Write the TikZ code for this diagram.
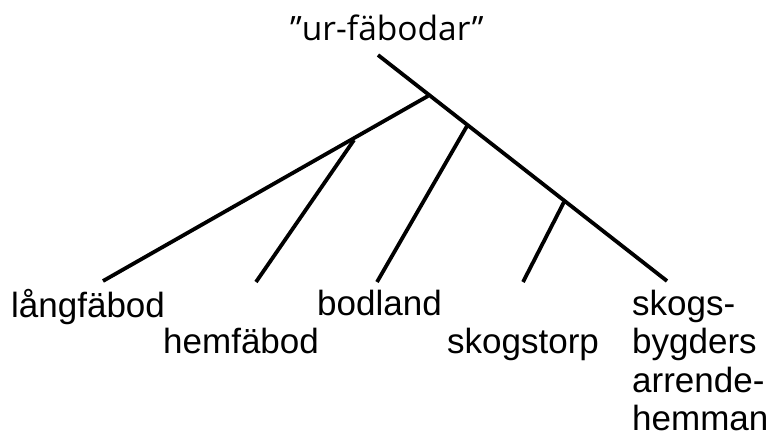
\documentclass[tikz,border=0pt]{standalone}
\usepackage{fontspec}
\setmainfont{Liberation Sans}
\newfontfamily\titlefont{Open Sans}
\usepackage{tikz}

\tikzset{
  branch/.style={line width=3.8pt, black},
  leaf/.style={anchor=base west, inner sep=0pt, font=\fontsize{35}{38.5}\selectfont},
}

\begin{document}
\begin{tikzpicture}[x=1pt,y=-1pt]
\useasboundingbox (0,0) rectangle (771,439);

% root and junctions
\coordinate (top) at (378,55);
\coordinate (j1) at (428,96);
\coordinate (j2) at (467,126);
\coordinate (j3) at (564,202);
\coordinate (j4) at (354,140);

% branch ends
\coordinate (e1) at (103,281);
\coordinate (e2) at (256,282);
\coordinate (e3) at (377,282);
\coordinate (e4) at (523,282);
\coordinate (e5) at (667,281);

\node [anchor=base west, inner sep=0pt, font=\titlefont\fontsize{33.5}{36}\selectfont] (ur) at (290,40) {”ur-fäbodar”};

\draw [branch] (top) -- (e5);
\draw [branch] (j1) -- (e1);
\draw [branch] (j4) -- (e2);
\draw [branch] (j2) -- (e3);
\draw [branch] (j3) -- (e4);

\node [leaf] (lang) at (11,317) {långfäbod};
\node [leaf] (hem) at (163,353) {hemfäbod};
\node [leaf] (bod) at (317,315) {bodland};
\node [leaf] (torp) at (447,353) {skogstorp};
% last line sits on the anchor
\node [leaf, align=left] (arr) at (632,430.5) {skogs-\\bygders\\arrende-\\hemman};

\end{tikzpicture}
\end{document}
